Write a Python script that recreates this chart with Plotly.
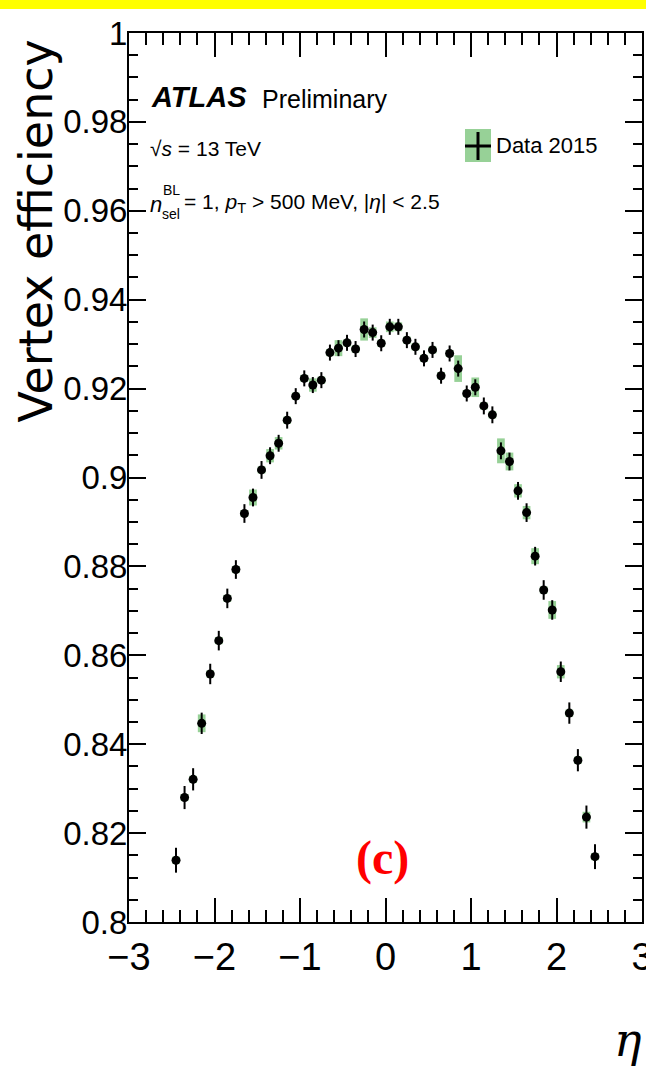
import plotly.graph_objects as go

# ---- data ----
eta = [round(-2.45 + 0.1 * i, 2) for i in range(50)]
eff = [0.8139, 0.8280, 0.8321, 0.8447, 0.8558, 0.8633, 0.8728, 0.8793, 0.8919, 0.8955,
       0.9017, 0.9049, 0.9077, 0.9129, 0.9183, 0.9223, 0.9208, 0.9219, 0.9281, 0.9291,
       0.9303, 0.9289, 0.9333, 0.9326, 0.9302, 0.9339, 0.9339, 0.9309, 0.9294, 0.9268,
       0.9287, 0.9229, 0.9279, 0.9245, 0.9189, 0.9203, 0.9161, 0.9141, 0.9060, 0.9036,
       0.8970, 0.8921, 0.8823, 0.8747, 0.8702, 0.8563, 0.8470, 0.8364, 0.8236, 0.8147]
stat = [0.0028, 0.0026, 0.0025, 0.0024, 0.0023, 0.0022, 0.0022, 0.0021, 0.0021, 0.0020,
        0.0020, 0.0019, 0.0019, 0.0019, 0.0018, 0.0018, 0.0018, 0.0018, 0.0018, 0.0018,
        0.0018, 0.0018, 0.0018, 0.0018, 0.0018, 0.0018, 0.0018, 0.0018, 0.0018, 0.0018,
        0.0018, 0.0018, 0.0018, 0.0018, 0.0018, 0.0018, 0.0019, 0.0019, 0.0019, 0.0020,
        0.0020, 0.0021, 0.0021, 0.0022, 0.0022, 0.0023, 0.0024, 0.0025, 0.0026, 0.0028]
syst = [0.0008, 0.0008, 0.0008, 0.0020, 0.0008, 0.0008, 0.0008, 0.0008, 0.0008, 0.0018,
        0.0008, 0.0015, 0.0014, 0.0008, 0.0008, 0.0008, 0.0015, 0.0008, 0.0008, 0.0018,
        0.0008, 0.0008, 0.0025, 0.0012, 0.0008, 0.0012, 0.0010, 0.0008, 0.0008, 0.0008,
        0.0008, 0.0008, 0.0008, 0.0030, 0.0008, 0.0022, 0.0008, 0.0008, 0.0028, 0.0020,
        0.0015, 0.0015, 0.0018, 0.0008, 0.0020, 0.0015, 0.0008, 0.0008, 0.0012, 0.0008]
x_ticks = [-3, -2, -1, 0, 1, 2, 3]
x_ticklabels = ["\u22123", "\u22122", "\u22121", "0", "1", "2", "3"]
y_ticks = [0.8, 0.82, 0.84, 0.86, 0.88, 0.9, 0.92, 0.94, 0.96, 0.98, 1.0]
y_ticklabels = ["0.8", "0.82", "0.84", "0.86", "0.88", "0.9", "0.92", "0.94", "0.96", "0.98", "1"]

W, H = 646, 1076
L, R, T, B = 129, 642, 33, 922
GREEN = "#97d197"
SANS = "Liberation Sans, Arial, Helvetica, sans-serif"


def px(x):
    return (x - L) / (R - L)


def py(y):
    return (B - y) / (B - T)


fig = go.Figure()

fig.add_trace(go.Bar(
    x=eta, y=[2 * s for s in syst], base=[e - s for e, s in zip(eff, syst)],
    width=0.09, marker=dict(color=GREEN, line=dict(width=0)),
    showlegend=False, hoverinfo="skip"))

fig.add_trace(go.Scatter(
    x=eta, y=eff, mode="markers",
    marker=dict(symbol="circle", size=9, color="black"),
    error_y=dict(type="data", array=stat, thickness=2, width=0, color="black"),
    error_x=dict(type="constant", value=0.03, thickness=2, width=0, color="black"),
    showlegend=False, name="Data 2015"))

axis_common = dict(showline=True, linecolor="black", linewidth=2, mirror="ticks",
                   ticks="inside", tickcolor="black", tickwidth=1.5, automargin=False,
                   showgrid=False, zeroline=False, ticklabeloverflow="allow")

fig.update_xaxes(range=[-3, 3], tickvals=x_ticks, ticktext=x_ticklabels, ticklen=24,
                 tickfont=dict(family=SANS, size=38, color="black"),
                 minor=dict(dtick=0.2, ticks="inside", ticklen=12, tickcolor="black", tickwidth=1.5),
                 **axis_common)
fig.update_yaxes(range=[0.8, 1.0], tickvals=y_ticks, ticktext=y_ticklabels, ticklen=17,
                 tickfont=dict(family=SANS, size=33, color="black"), ticklabelstandoff=-7,
                 minor=dict(dtick=0.005, ticks="inside", ticklen=9, tickcolor="black", tickwidth=1.5),
                 **axis_common)

ann = []
ann.append(dict(x=px(149), y=py(97), text="<b><i>ATLAS</i></b>", xanchor="left", yanchor="middle",
                font=dict(family=SANS, size=29, color="black")))
ann.append(dict(x=px(260), y=py(99), text="Preliminary", xanchor="left", yanchor="middle",
                font=dict(family=SANS, size=25, color="black")))
ann.append(dict(x=px(148), y=py(149), text="\u221a<i>s</i> = 13 TeV", xanchor="left", yanchor="middle",
                font=dict(family=SANS, size=21, color="black")))
ann.append(dict(x=px(148), y=py(204), text="<i>n</i>", xanchor="left", yanchor="middle",
                font=dict(family=SANS, size=22, color="black")))
ann.append(dict(x=px(161), y=py(190), text="BL", xanchor="left", yanchor="middle",
                font=dict(family=SANS, size=14, color="black")))
ann.append(dict(x=px(160), y=py(214), text="sel", xanchor="left", yanchor="middle",
                font=dict(family=SANS, size=14, color="black")))
ann.append(dict(x=px(182), y=py(203), text="= 1, <i>p</i><sub>T</sub> > 500 MeV, |<i>\u03b7</i>| < 2.5",
                xanchor="left", yanchor="middle",
                font=dict(family=SANS, size=21, color="black")))
ann.append(dict(x=px(494), y=py(145), text="Data 2015", xanchor="left", yanchor="middle",
                font=dict(family=SANS, size=22, color="black")))
ann.append(dict(x=px(382), y=py(858), text="<b>(c)</b>", xanchor="center", yanchor="middle",
                font=dict(family="Liberation Serif, Times New Roman, serif", size=48, color="#ff0000")))
ann.append(dict(x=px(628), y=py(1040), text="<i>\u03b7</i>", xanchor="center", yanchor="middle",
                font=dict(family="DejaVu Serif, Liberation Serif, serif", size=46, color="black")))
ann.append(dict(x=px(35), y=py(38), text="Vertex efficiency", textangle=-90,
                xanchor="center", yanchor="top",
                font=dict(family="DejaVu Sans, sans-serif", size=46, color="black")))
for a in ann:
    a.update(xref="paper", yref="paper", showarrow=False)

shapes = [
    dict(type="rect", xref="paper", yref="paper", x0=px(0), x1=px(W), y0=py(9), y1=py(0),
         fillcolor="#ffff00", line=dict(width=0), layer="above"),
    dict(type="rect", xref="paper", yref="paper", x0=px(465), x1=px(491), y0=py(162), y1=py(129),
         fillcolor=GREEN, line=dict(width=0)),
    dict(type="line", xref="paper", yref="paper", x0=px(465), x1=px(491), y0=py(146), y1=py(146),
         line=dict(color="black", width=3)),
    dict(type="line", xref="paper", yref="paper", x0=px(478), x1=px(478), y0=py(132), y1=py(160),
         line=dict(color="black", width=3)),
]

fig.update_layout(width=W, height=H, margin=dict(l=L, r=W - R, t=T, b=H - B, autoexpand=False),
                  paper_bgcolor="white", plot_bgcolor="white",
                  barmode="overlay", annotations=ann, shapes=shapes, showlegend=False)

fig.write_html("out.html")
